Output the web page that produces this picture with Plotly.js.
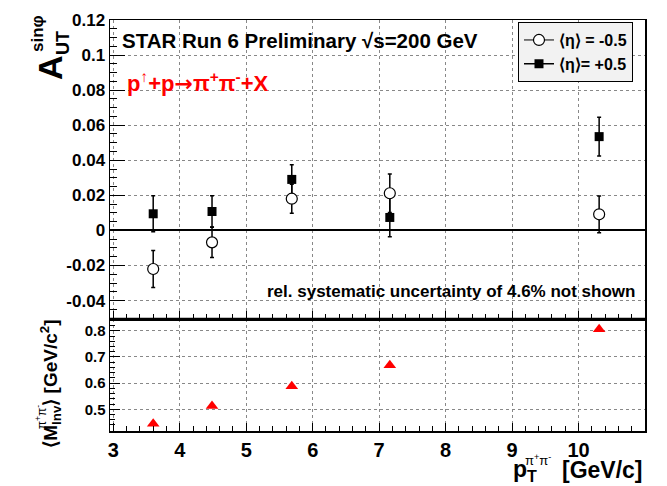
<!DOCTYPE html>
<html><head><meta charset="utf-8">
<script src="https://cdn.plot.ly/plotly-3.0.1.min.js"></script>
<style>html,body{margin:0;padding:0;background:#fff}</style>
</head><body><div id="chart" style="width:667px;height:486px"></div>
<script>
// ---- data ----
const pT = [3.6, 4.485, 5.685, 7.16, 10.31];
const asymEtaNeg = [-0.022, -0.0068, 0.0181, 0.0212, 0.0092];
const errEtaNeg = [0.0105, 0.0087, 0.0083, 0.011, 0.0105];
const asymEtaPos = [0.0095, 0.0108, 0.0291, 0.0074, 0.0535];
const errEtaPos = [0.0103, 0.009, 0.0083, 0.011, 0.011];
const mInv = [0.445, 0.513, 0.588, 0.668, 0.806];

const xTickVals = [3, 4, 5, 6, 7, 8, 9, 10];
const xTickText = ['3', '4', '5', '6', '7', '8', '9', '10'];
const aTickVals = [-0.04, -0.02, 0, 0.02, 0.04, 0.06, 0.08, 0.1, 0.12];
const aTickText = ['-0.04', '-0.02', '0', '0.02', '0.04', '0.06', '0.08', '0.1', '0.12'];
const mTickVals = [0.5, 0.6, 0.7, 0.8];
const mTickText = ['0.5', '0.6', '0.7', '0.8'];
const legendNeg = '<b>⟨η⟩ = -0.5</b>';
const legendPos = '<b>⟨η⟩= +0.5</b>';

const FONT = 'Liberation Sans, Arial, Helvetica, sans-serif';
const split = 0.2725;

const traces = [
  {x: pT, y: asymEtaPos, xaxis: 'x2', yaxis: 'y2', mode: 'markers', showlegend: false,
   marker: {symbol: 'square', size: 9, color: 'black'},
   error_y: {type: 'data', array: errEtaPos, color: 'black', thickness: 1.5, width: 2}},
  {x: pT, y: asymEtaNeg, xaxis: 'x2', yaxis: 'y2', mode: 'markers', showlegend: false,
   marker: {symbol: 'circle', size: 11, color: 'white', line: {color: 'black', width: 1.2}},
   error_y: {type: 'data', array: errEtaNeg, color: 'black', thickness: 1.5, width: 2}},
  {x: pT, y: mInv, xaxis: 'x', yaxis: 'y', mode: 'markers', showlegend: false,
   marker: {symbol: 'triangle-up', size: 11, color: '#ff0000'}},
  // legend entries
  {x: [null], y: [null], xaxis: 'x2', yaxis: 'y2', mode: 'lines+markers', name: legendNeg,
   line: {color: 'black', width: 1},
   marker: {symbol: 'circle', size: 11, color: 'white', line: {color: 'black', width: 1.2}}},
  {x: [null], y: [null], xaxis: 'x2', yaxis: 'y2', mode: 'lines+markers', name: legendPos,
   line: {color: 'black', width: 1.5},
   marker: {symbol: 'square', size: 9, color: 'black'}}
];

const gridCommon = {showgrid: true, gridcolor: '#888', griddash: 'dot', gridwidth: 1,
  showline: true, mirror: true, linecolor: 'black', linewidth: 1.5, zeroline: false,
  ticks: 'inside', tickcolor: 'black', tickwidth: 1};

const layout = {
  width: 667, height: 486,
  margin: {l: 110, r: 22, t: 20, b: 55},
  paper_bgcolor: 'white', plot_bgcolor: 'white',
  font: {family: FONT, color: 'black'},
  xaxis: Object.assign({}, gridCommon, {
    anchor: 'y', domain: [0, 1], range: [2.95, 11],
    tickvals: xTickVals, ticktext: xTickText, ticklen: 8,
    tickfont: {family: FONT, size: 20, weight: 'bold', color: 'black'},
    minor: {ticks: 'inside', ticklen: 5, dtick: 0.2, tick0: 3, tickcolor: 'black', showgrid: false}
  }),
  yaxis: Object.assign({}, gridCommon, {
    anchor: 'x', domain: [0, split], range: [0.417, 0.845],
    tickvals: mTickVals, ticktext: mTickText, ticklen: 10,
    tickfont: {family: FONT, size: 15, weight: 'bold', color: 'black'},
    minor: {ticks: 'inside', ticklen: 5, dtick: 0.02, tick0: 0.4, tickcolor: 'black', showgrid: false}
  }),
  xaxis2: Object.assign({}, gridCommon, {
    anchor: 'y2', matches: 'x', range: [2.95, 11], showticklabels: false,
    tickvals: xTickVals, ticklen: 8,
    minor: {ticks: 'inside', ticklen: 5, dtick: 0.2, tick0: 3, tickcolor: 'black', showgrid: false}
  }),
  yaxis2: Object.assign({}, gridCommon, {
    anchor: 'x2', domain: [split, 1], range: [-0.0505, 0.12],
    tickvals: aTickVals, ticktext: aTickText, ticklen: 15,
    zeroline: true, zerolinecolor: 'black', zerolinewidth: 2,
    tickfont: {family: FONT, size: 17, weight: 'bold', color: 'black'},
    minor: {ticks: 'inside', ticklen: 7, dtick: 0.005, tick0: 0, tickcolor: 'black', showgrid: false}
  }),
  showlegend: true,
  legend: {x: 0.7626, y: 0.995, xanchor: 'left', yanchor: 'top',
    bgcolor: '#f2f2f2', bordercolor: 'black', borderwidth: 1,
    font: {family: FONT, size: 16, color: 'black'}, itemwidth: 30, tracegroupgap: 0},
  shapes: [
    {type: 'line', xref: 'paper', yref: 'paper', x0: 0, x1: 1, y0: split, y1: split,
     line: {color: 'black', width: 2.5}}
  ],
  annotations: [
    {xref: 'paper', yref: 'paper', x: 0.0187, y: 0.9513, xanchor: 'left', yanchor: 'middle',
     showarrow: false, text: '<b>STAR Run 6 Preliminary √s=200 GeV</b>',
     font: {family: FONT, size: 20.5, color: 'black'}},
    {xref: 'paper', yref: 'paper', x: 0.028, y: 0.849, xanchor: 'left', yanchor: 'middle',
     showarrow: false,
     text: '<b>p<sup>↑</sup>+p<span style="font-family:DejaVu Sans">→</span>π<sup>+</sup>π<sup>-</sup>+X</b>',
     font: {family: FONT, size: 22, color: '#ff0000'}},
    {xref: 'paper', yref: 'paper', x: 0.985, y: 0.3406, xanchor: 'right', yanchor: 'middle',
     showarrow: false, text: '<b>rel. systematic uncertainty of 4.6% not shown</b>',
     font: {family: FONT, size: 17, color: 'black'}},
    // top y title pieces
    {xref: 'paper', yref: 'paper', x: -0.1121, y: 0.8832, xanchor: 'center', yanchor: 'middle',
     showarrow: false, textangle: -90, text: '<b>A</b>',
     font: {family: FONT, size: 34, color: 'black'}},
    {xref: 'paper', yref: 'paper', x: -0.0879, y: 0.944, xanchor: 'center', yanchor: 'middle',
     showarrow: false, textangle: -90, text: '<b>UT</b>',
     font: {family: FONT, size: 18, color: 'black'}},
    {xref: 'paper', yref: 'paper', x: -0.1346, y: 0.9684, xanchor: 'center', yanchor: 'middle',
     showarrow: false, textangle: -90, text: '<b>sinφ</b>',
     font: {family: FONT, size: 17, color: 'black'}},
    // bottom y title
    {xref: 'paper', yref: 'paper', x: -0.1103, y: 0.115, xanchor: 'center', yanchor: 'middle',
     showarrow: false, textangle: -90, text: '<b>⟨M<sub>Inv</sub>⟩ [GeV/c<sup>2</sup>]</b>',
     font: {family: FONT, size: 19, color: 'black'}},
    {xref: 'paper', yref: 'paper', x: -0.1275, y: 0.033, xanchor: 'center', yanchor: 'middle',
     showarrow: false, textangle: -90, text: 'π<sup>+</sup>π<sup>-</sup>',
     font: {family: FONT, size: 12, color: 'black'}},
    // x title
    {xref: 'paper', yref: 'paper', x: 1.0, y: -0.0949, xanchor: 'right', yanchor: 'middle',
     showarrow: false, text: '<b>[GeV/c]</b>',
     font: {family: FONT, size: 23, color: 'black'}},
    {xref: 'paper', yref: 'paper', x: 0.7495, y: -0.0949, xanchor: 'left', yanchor: 'middle',
     showarrow: false, text: '<b>p<sub>T</sub></b>',
     font: {family: FONT, size: 23, color: 'black'}},
    {xref: 'paper', yref: 'paper', x: 0.8, y: -0.07, xanchor: 'center', yanchor: 'middle',
     showarrow: false, text: 'π<sup>+</sup>π<sup>-</sup>',
     font: {family: FONT, size: 13, color: 'black'}}
  ]
};

Plotly.newPlot('chart', traces, layout, {staticPlot: true, displayModeBar: false});
</script>
</body></html>
